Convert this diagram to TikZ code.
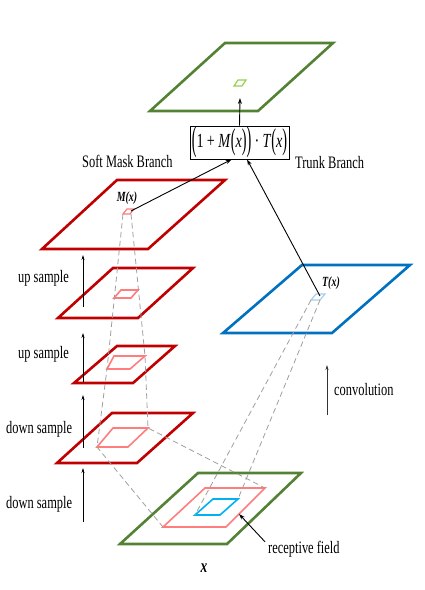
\documentclass[tikz,border=0pt]{standalone}
\usepackage{graphicx}
\usepackage{fontspec}
\setmainfont{Liberation Serif}[FakeStretch=0.71]
\usetikzlibrary{arrows.meta}
\definecolor{dred}{RGB}{192,0,0}
\definecolor{pinkr}{RGB}{255,125,125}
\definecolor{dgreen}{RGB}{84,130,53}
\definecolor{lgreen}{RGB}{146,208,80}
\definecolor{dblue}{RGB}{0,112,192}
\definecolor{cyanb}{RGB}{0,176,240}
\definecolor{lblue}{RGB}{170,205,235}
\newcommand{\myparen}[3]{\raisebox{#2}{\scalebox{1}[#1]{#3}}}
\tikzset{
  outer/.style={line width=2.6pt, line join=miter},
  inner/.style={line width=1.6pt},
  tiny/.style={line width=1.2pt},
  dashline/.style={gray!75, line width=0.8pt, dash pattern=on 5.5pt off 3.5pt},
  blackarrow/.style={-{Stealth[length=6pt,width=4pt]}, line width=0.9pt},
  sidearrow/.style={-{Stealth[length=5pt,width=3pt]}, line width=0.7pt},
  lbl/.style={font=\fontsize{17.5}{19}\selectfont, inner sep=0pt},
  vlbl/.style={font=\fontsize{14}{15}\selectfont\bfseries\itshape, inner sep=0pt}
}
\begin{document}
\begin{tikzpicture}[x=1pt,y=-1pt]
\useasboundingbox (0,0) rectangle (424,590);

% top green output
\draw[outer, dgreen] (225,43) -- (333,43) -- (258,111) -- (150,111) -- cycle;
\draw[tiny, lgreen] (238,80) -- (246,80) -- (242,86) -- (234,86) -- cycle;
\coordinate (outSq) at (240,98);

% formula box
\node[draw, line width=0.8pt, minimum width=99pt, minimum height=33pt, inner sep=0pt,
      font=\fontsize{20}{22}\selectfont] (box) at (239.5,142.5)
  {\myparen{1.75}{-0.176em}{(}1\,+\,\textit{M}\myparen{1.5}{-0.118em}{(}\textit{x}\myparen{1.5}{-0.118em}{)}\myparen{1.75}{-0.176em}{)}\,·\,\textit{T}\myparen{1.5}{-0.118em}{(}\textit{x}\myparen{1.5}{-0.118em}{)}};

\node[lbl, anchor=west] (soft) at (82,161) {Soft Mask Branch};
\node[lbl, anchor=west] (trunk) at (295,163) {Trunk Branch};

% red layer 1 (M(x))
\draw[outer, dred] (117,180) -- (225,180) -- (148,249) -- (42,249) -- cycle;
\draw[tiny, pinkr] (127,209) -- (134,209) -- (130,214) -- (123,214) -- cycle;
\coordinate (mBL) at (123,214);
\coordinate (mBR) at (131,214);
\coordinate (mOut) at (131,211);
\node[vlbl] (mlabel) at (127,198) {M(x)};

% red layer 2
\draw[outer, dred] (113,268) -- (193,268) -- (138,318) -- (58,318) -- cycle;
\draw[inner, pinkr] (121,290) -- (138,290) -- (131,298) -- (114,298) -- cycle;

% red layer 3
\draw[outer, dred] (117,346) -- (175,346) -- (133,383) -- (74,383) -- cycle;
\draw[inner, pinkr] (114,356) -- (145,356) -- (130,369) -- (107,369) -- cycle;
\coordinate (r3BL) at (107,369);
\coordinate (r3TR) at (145,356);

% red layer 4
\draw[outer, dred] (112,413) -- (193,413) -- (137,463) -- (57,463) -- cycle;
\draw[inner, pinkr] (113,428) -- (148,428) -- (128,447) -- (97,447) -- cycle;
\coordinate (r4BL) at (97,447);
\coordinate (r4TR) at (148,428);

% blue trunk
\draw[outer, dblue] (302,265) -- (410,265) -- (332,333) -- (223,333) -- cycle;
\draw[tiny, lblue] (316,294) -- (325,294) -- (320,300) -- (311,300) -- cycle;
\coordinate (tBL) at (311,300);
\coordinate (tBR) at (320,300);
\coordinate (tOut) at (320,296);
\node[vlbl] (tlabel) at (331,283) {T(x)};

% bottom green input
\draw[outer, dgreen] (198,473) -- (301,473) -- (227,544) -- (120,544) -- cycle;
\draw[inner, pinkr] (205,488) -- (265,488) -- (226,527) -- (163,527) -- cycle;
\draw[inner, cyanb] (213,499) -- (238,499) -- (220,515) -- (195,515) -- cycle;
\coordinate (pTR) at (265,488);
\coordinate (pBL) at (163,527);
\coordinate (bBL) at (195,515);
\coordinate (bTR) at (238,499);
\coordinate (pEdge) at (239,514);
\node[font=\fontsize{19}{20}\selectfont\bfseries\itshape, inner sep=0pt] (xlabel) at (204,568) {x};

% dashed receptive field lines
\draw[dashline] (mBL) -- (r3BL) -- (r4BL) -- (pBL);
\draw[dashline] (mBR) -- (r3TR) -- (r4TR) -- (pTR);
\draw[dashline] (tBL) -- (bBL);
\draw[dashline] (tBR) -- (bTR);

% main connectors
\draw[blackarrow] (box.north) -- (outSq);
\draw[blackarrow] (mOut) -- (box.245);
\draw[blackarrow] (tOut) -- (box.294);

% receptive field label
\node[lbl, anchor=west] (rf) at (268,549) {receptive field};
\draw[blackarrow] ([xshift=-3pt,yshift=-1pt]rf.north west) -- (pEdge);

% side arrows and labels
\coordinate (a1s) at (83,307); \coordinate (a1e) at (83,255);
\coordinate (a2s) at (83,382); \coordinate (a2e) at (83,333);
\coordinate (a3s) at (83,448); \coordinate (a3e) at (83,395);
\coordinate (a4s) at (83,522); \coordinate (a4e) at (83,468);
\draw[sidearrow] (a1s) -- (a1e);
\draw[sidearrow] (a2s) -- (a2e);
\draw[sidearrow] (a3s) -- (a3e);
\draw[sidearrow] (a4s) -- (a4e);
\node[lbl, anchor=west] (us1) at (18,278) {up sample};
\node[lbl, anchor=west] (us2) at (18,354) {up sample};
\node[lbl, anchor=west] (ds1) at (6,429) {down sample};
\node[lbl, anchor=west] (ds2) at (6,504) {down sample};

% convolution
\coordinate (cs) at (327,415); \coordinate (ce) at (327,365);
\draw[sidearrow, line width=1pt, black!80] (cs) -- (ce);
\node[lbl, anchor=west] (conv) at (334,390) {convolution};
\end{tikzpicture}
\end{document}
